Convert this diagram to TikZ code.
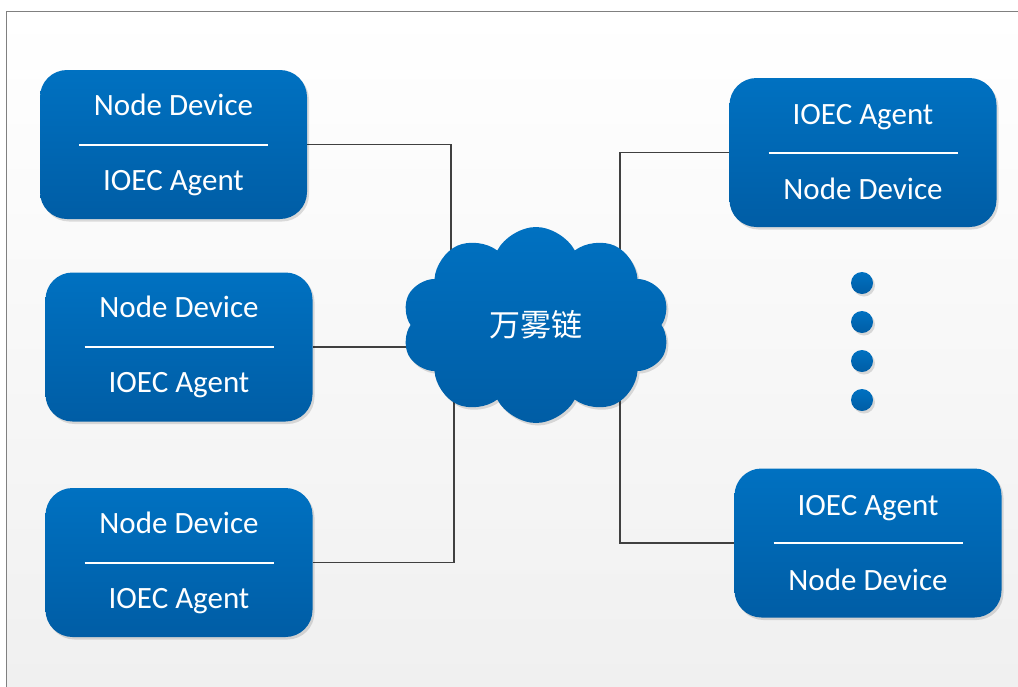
\documentclass[tikz,border=0pt]{standalone}
\usepackage{fontspec}
\setmainfont{Carlito}
\newfontfamily\cjkfont{Noto Sans CJK SC}
\usetikzlibrary{shapes.symbols,shadows,calc}
\definecolor{blueTop}{HTML}{0071C1}
\definecolor{blueBottom}{HTML}{005DA5}
\definecolor{linkGray}{HTML}{404040}
\pgfdeclarelayer{back}
\pgfdeclarelayer{links}
\pgfsetlayers{back,links,main}
\begin{document}
\begin{tikzpicture}[x=1pt,y=-1pt,
    softshadow/.style={drop shadow={shadow xshift=2pt,shadow yshift=-2.5pt,fill=black,opacity=0.13}},
    device/.style={rounded corners=27pt,minimum width=267pt,minimum height=149pt,
        top color=blueTop,bottom color=blueBottom,text=white,align=center,
        font=\fontsize{31}{75}\selectfont,softshadow,
        path picture={\draw[white,line width=2pt] (path picture bounding box.center) ++(-94.5,0) -- ++(189,0);}},
    fog/.style={cloud,cloud puffs=10,cloud puff arc=125,aspect=1.37,
        minimum width=268pt,minimum height=196pt,inner sep=0pt,
        top color=blueTop,bottom color=blueBottom,text=white,
        font=\cjkfont\fontsize{31}{36}\selectfont,softshadow},
    dot/.style={circle,minimum size=22pt,inner sep=0pt,top color=blueTop,bottom color=blueBottom,softshadow},
    link/.style={draw=linkGray,line width=1.4pt}]
    \useasboundingbox (0,0) rectangle (1018,686);
    \begin{pgfonlayer}{back}
        \draw[draw=black!50,line width=1.2pt,top color=white,bottom color=black!6] (6.5,11.5) rectangle (1030,700);
    \end{pgfonlayer}
    \node[device] (left1) at (173.5,144.5) {Node Device\\IOEC Agent};
    \node[device] (left2) at (179,347) {Node Device\\IOEC Agent};
    \node[device] (left3) at (179,562.5) {Node Device\\IOEC Agent};
    \node[device] (right1) at (863,152.5) {IOEC Agent\\Node Device};
    \node[device] (right2) at (868,543) {IOEC Agent\\Node Device};
    \node[fog] (chain) at (536,325) {万雾链};
    \foreach \i in {1,...,4}
        \node[dot] (dot\i) at (862,244+39*\i) {};
    \begin{pgfonlayer}{links}
        \draw[link] (left1.east) -| ($(chain.center)+(-85,0)$);
        \draw[link] (left2.east) -- (left2.east -| chain.center);
        \draw[link] (left3.east) -| ($(chain.center)+(-82,0)$);
        \draw[link] (right1.west) -| ($(chain.center)+(84,0)$);
        \draw[link] (right2.west) -| ($(chain.center)+(84,0)$);
    \end{pgfonlayer}
\end{tikzpicture}
\end{document}
